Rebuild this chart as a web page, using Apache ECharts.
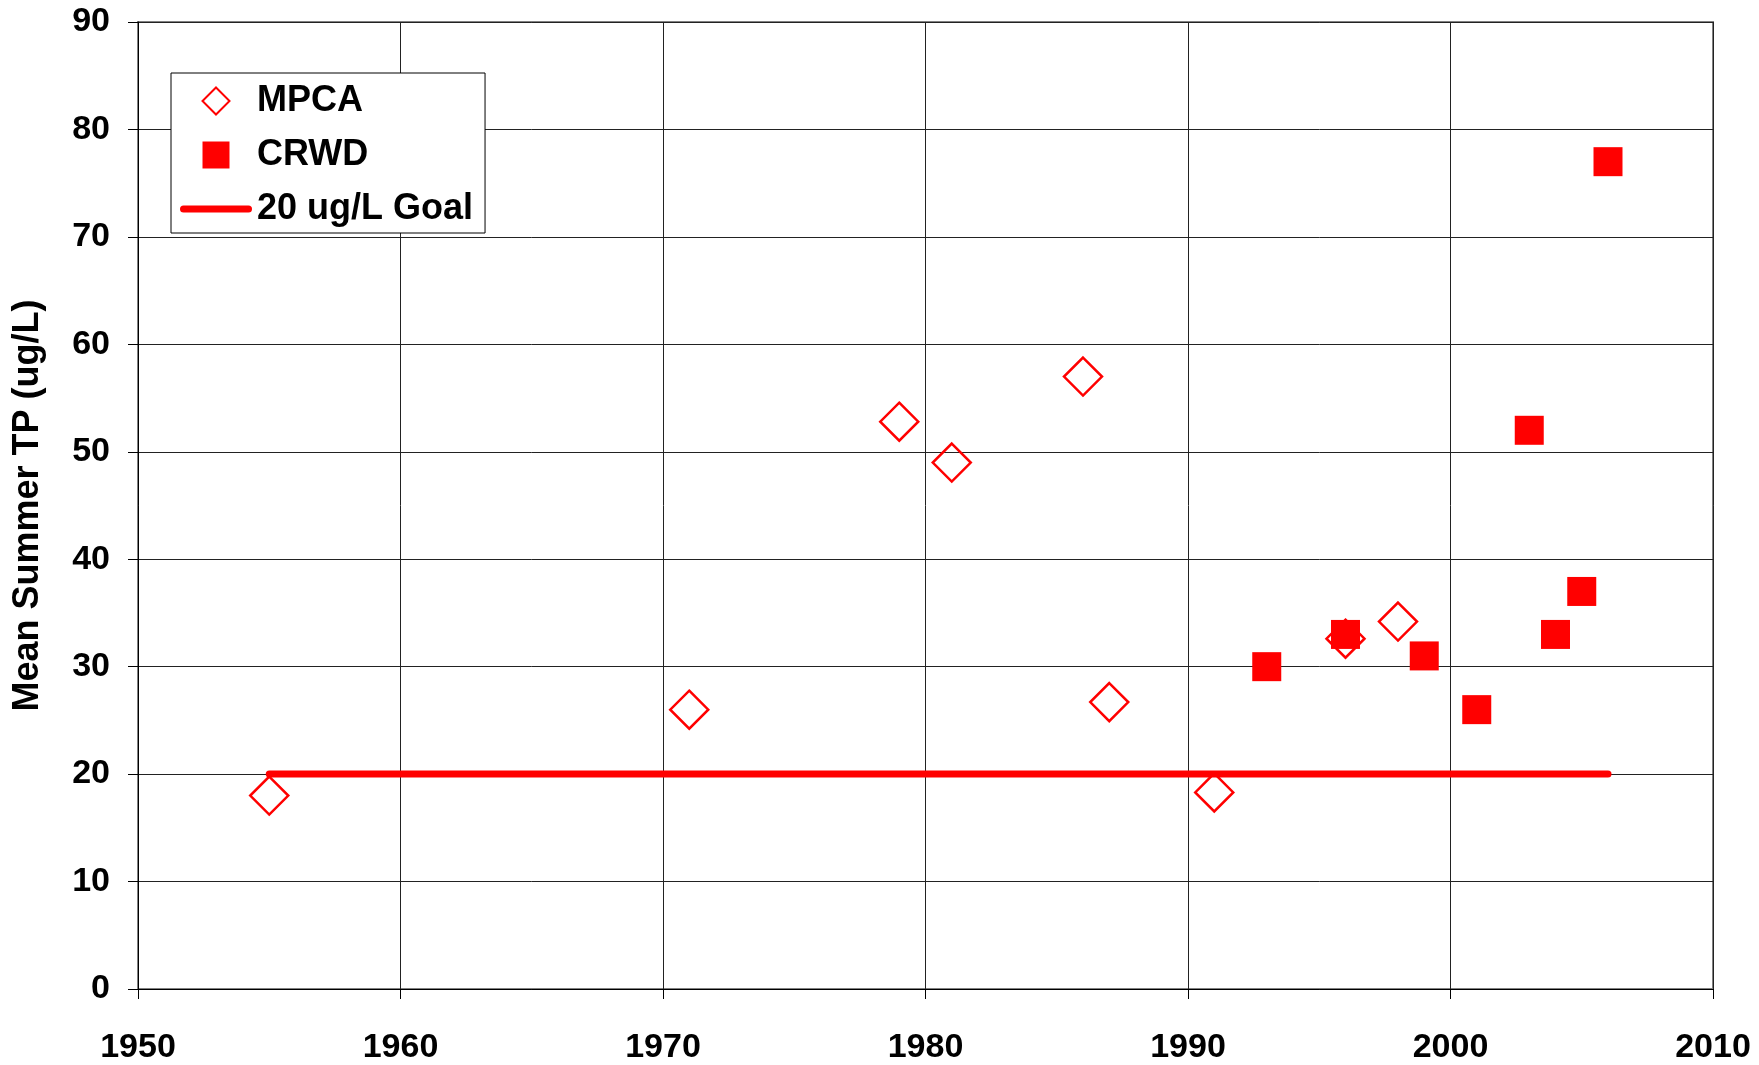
<!DOCTYPE html>
<html><head><meta charset="utf-8">
<script src="https://cdn.jsdelivr.net/npm/echarts@6/dist/echarts.min.js"></script>
<style>html,body{margin:0;padding:0;background:#fff}#c{width:1759px;height:1065px}</style>
</head><body><div id="c"></div>
<script>
const mpcaYears = [1955, 1971, 1979, 1981, 1986, 1987, 1991, 1996, 1998];
const mpcaValues = [18.0, 26.0, 52.8, 49.0, 57.0, 26.7, 18.3, 32.6, 34.2];
const crwdYears = [1993, 1996, 1999, 2001, 2003, 2004, 2005, 2006];
const crwdValues = [30.0, 33.0, 31.0, 26.0, 52.0, 33.0, 37.0, 77.0];
const goalYears = [1955, 2006];
const goalValues = [20, 20];
const seriesNames = ['MPCA', 'CRWD', '20 ug/L Goal'];
const yTitle = 'Mean Summer TP (ug/L)';

const zip = (a, b) => a.map((v, i) => [v, b[i]]);
const font = '"Liberation Sans", Arial, sans-serif';
const chart = echarts.init(document.getElementById('c'), null, {renderer: 'canvas'});
chart.setOption({
  animation: false,
  backgroundColor: '#fff',
  grid: {left: 138, right: 46, top: 22, bottom: 76, show: true, borderColor: '#808080', borderWidth: 2},
  legend: {
    orient: 'vertical', left: 171, top: 73,
    borderColor: '#000', borderWidth: 1, backgroundColor: '#fff',
    padding: [8, 12, 4, 9], itemGap: 14, itemWidth: 72, itemHeight: 27,
    textStyle: {fontFamily: font, fontWeight: 'bold', fontSize: 36, lineHeight: 40, color: '#000'},
    data: [
      {name: seriesNames[0], icon: 'path://M14,0 L28,14 L14,28 L0,14 Z', itemStyle: {color: '#fff', borderColor: '#ff0000', borderWidth: 2}},
      {name: seriesNames[1], icon: 'path://M0,0 L28,0 L28,28 L0,28 Z', itemStyle: {color: '#ff0000'}},
      {name: seriesNames[2], icon: 'path://M3.5,0 L68.5,0 A3.5,3.5 0 0 1 68.5,7 L3.5,7 A3.5,3.5 0 0 1 3.5,0 Z', itemStyle: {color: '#ff0000'}}
    ]
  },
  xAxis: {
    type: 'value', min: 1950, max: 2010, interval: 10,
    axisLine: {lineStyle: {color: '#000', width: 1}},
    axisTick: {show: true, length: 10, lineStyle: {color: '#000'}},
    axisLabel: {margin: 42, fontFamily: font, fontWeight: 'bold', fontSize: 34, color: '#000', formatter: v => String(v)},
    splitLine: {show: true, lineStyle: {color: '#222', width: 1}}
  },
  yAxis: {
    type: 'value', min: 0, max: 90, interval: 10,
    name: yTitle, nameLocation: 'middle', nameGap: 92, nameRotate: 90,
    nameTextStyle: {fontFamily: font, fontWeight: 'bold', fontSize: 36, color: '#000'},
    axisLine: {show: true, lineStyle: {color: '#000', width: 1}},
    axisTick: {show: true, length: 10, lineStyle: {color: '#000'}},
    axisLabel: {margin: 28, fontFamily: font, fontWeight: 'bold', fontSize: 34, color: '#000'},
    splitLine: {show: true, lineStyle: {color: '#222', width: 1}}
  },
  series: [
    {name: seriesNames[2], type: 'line', data: zip(goalYears, goalValues), symbol: 'none', z: 1,
      lineStyle: {color: '#ff0000', width: 7, cap: 'round'}, itemStyle: {color: '#ff0000'}},
    {name: seriesNames[0], type: 'scatter', data: zip(mpcaYears, mpcaValues), symbol: 'diamond', symbolSize: 38, z: 3,
      itemStyle: {color: 'rgba(255,255,255,0)', borderColor: '#ff0000', borderWidth: 2.5, opacity: 1}},
    {name: seriesNames[1], type: 'scatter', data: zip(crwdYears, crwdValues), symbol: 'rect', symbolSize: 29, z: 2,
      itemStyle: {color: '#ff0000', opacity: 1}}
  ]
});
</script></body></html>
